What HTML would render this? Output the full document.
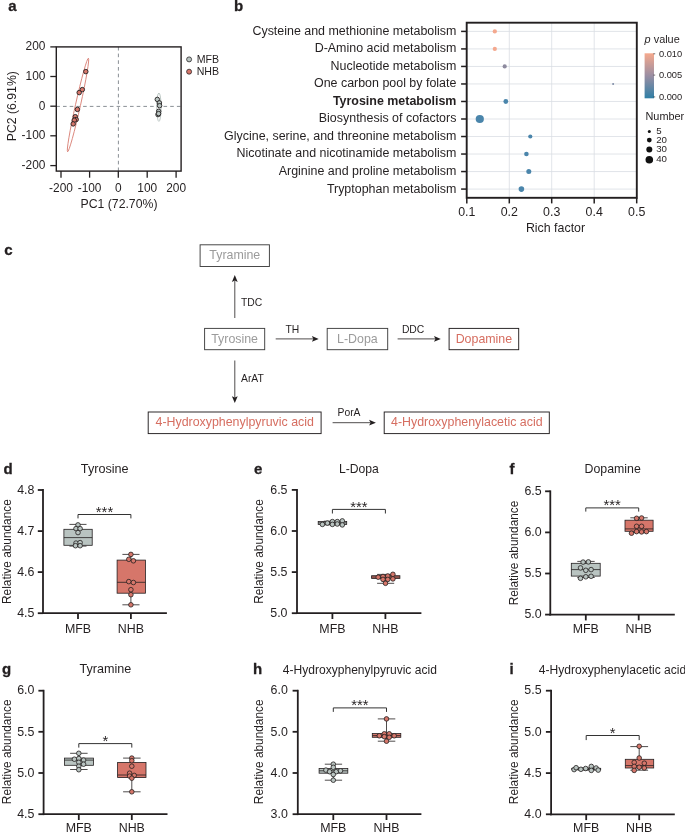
<!DOCTYPE html>
<html><head><meta charset="utf-8"><title>Figure</title>
<style>html,body{margin:0;padding:0;background:#fff}svg{display:block;font-family:"Liberation Sans", Arial, Helvetica, sans-serif}</style>
</head><body>
<svg width="685" height="833" viewBox="0 0 685 833">
<rect width="685" height="833" fill="#fff"/>
<text x="8.3" y="11.1" font-size="15" font-weight="bold" fill="#231f20" stroke="#231f20" stroke-width="0.3">a</text>
<line x1="56.3" y1="106.4" x2="181.1" y2="106.4" stroke="#626a70" stroke-width="0.75" stroke-dasharray="3.6 3.1"/>
<line x1="118.4" y1="46.9" x2="118.4" y2="171.1" stroke="#626a70" stroke-width="0.75" stroke-dasharray="3.6 3.1"/>
<rect x="56.3" y="46.9" width="124.8" height="124.19999999999999" fill="none" stroke="#231f20" stroke-width="1.4"/>
<line x1="50.3" y1="46.9" x2="56.3" y2="46.9" stroke="#231f20" stroke-width="1.3"/>
<text x="45.4" y="50.4" font-size="11.9" text-anchor="end" fill="#231f20">200</text>
<line x1="50.3" y1="76.5" x2="56.3" y2="76.5" stroke="#231f20" stroke-width="1.3"/>
<text x="45.4" y="80.0" font-size="11.9" text-anchor="end" fill="#231f20">100</text>
<line x1="50.3" y1="106.2" x2="56.3" y2="106.2" stroke="#231f20" stroke-width="1.3"/>
<text x="45.4" y="109.7" font-size="11.9" text-anchor="end" fill="#231f20">0</text>
<line x1="50.3" y1="135.8" x2="56.3" y2="135.8" stroke="#231f20" stroke-width="1.3"/>
<text x="45.4" y="139.3" font-size="11.9" text-anchor="end" fill="#231f20">-100</text>
<line x1="50.3" y1="165.6" x2="56.3" y2="165.6" stroke="#231f20" stroke-width="1.3"/>
<text x="45.4" y="169.1" font-size="11.9" text-anchor="end" fill="#231f20">-200</text>
<line x1="61.0" y1="171.1" x2="61.0" y2="177.7" stroke="#231f20" stroke-width="1.3"/>
<text x="61.0" y="191.7" font-size="11.9" text-anchor="middle" fill="#231f20">-200</text>
<line x1="89.6" y1="171.1" x2="89.6" y2="177.7" stroke="#231f20" stroke-width="1.3"/>
<text x="89.6" y="191.7" font-size="11.9" text-anchor="middle" fill="#231f20">-100</text>
<line x1="118.3" y1="171.1" x2="118.3" y2="177.7" stroke="#231f20" stroke-width="1.3"/>
<text x="118.3" y="191.7" font-size="11.9" text-anchor="middle" fill="#231f20">0</text>
<line x1="147.2" y1="171.1" x2="147.2" y2="177.7" stroke="#231f20" stroke-width="1.3"/>
<text x="147.2" y="191.7" font-size="11.9" text-anchor="middle" fill="#231f20">100</text>
<line x1="176.1" y1="171.1" x2="176.1" y2="177.7" stroke="#231f20" stroke-width="1.3"/>
<text x="176.1" y="191.7" font-size="11.9" text-anchor="middle" fill="#231f20">200</text>
<text x="119.0" y="207.9" font-size="12.26" text-anchor="middle" fill="#231f20">PC1 (72.70%)</text>
<text x="15.6" y="106.2" font-size="12.26" text-anchor="middle" transform="rotate(-90 15.6 106.2)" fill="#231f20">PC2 (6.91%)</text>
<ellipse cx="78" cy="105" rx="2.5" ry="47.9" transform="rotate(12.55 78 105)" fill="none" stroke="#d6766a" stroke-width="0.8"/>
<ellipse cx="158.9" cy="107.2" rx="2.2" ry="14.2" fill="none" stroke="#aab8b4" stroke-width="0.8"/>
<circle cx="85.8" cy="71.6" r="2.25" fill="#d6766a" stroke="#231f20" stroke-width="0.9"/>
<circle cx="82.3" cy="89.6" r="2.25" fill="#d6766a" stroke="#231f20" stroke-width="0.9"/>
<circle cx="79.2" cy="92.6" r="2.25" fill="#d6766a" stroke="#231f20" stroke-width="0.9"/>
<circle cx="77.4" cy="109.4" r="2.25" fill="#d6766a" stroke="#231f20" stroke-width="0.9"/>
<circle cx="75.3" cy="116.7" r="2.25" fill="#d6766a" stroke="#231f20" stroke-width="0.9"/>
<circle cx="76.2" cy="119.5" r="2.25" fill="#d6766a" stroke="#231f20" stroke-width="0.9"/>
<circle cx="74.3" cy="120.2" r="2.25" fill="#d6766a" stroke="#231f20" stroke-width="0.9"/>
<circle cx="73.2" cy="123.9" r="2.25" fill="#d6766a" stroke="#231f20" stroke-width="0.9"/>
<circle cx="157.3" cy="99.4" r="2.25" fill="#b9c4c1" stroke="#231f20" stroke-width="0.9"/>
<circle cx="159.4" cy="102.9" r="2.25" fill="#b9c4c1" stroke="#231f20" stroke-width="0.9"/>
<circle cx="159.6" cy="105.7" r="2.25" fill="#b9c4c1" stroke="#231f20" stroke-width="0.9"/>
<circle cx="158.7" cy="111.3" r="2.25" fill="#b9c4c1" stroke="#231f20" stroke-width="0.9"/>
<circle cx="158.0" cy="114.6" r="2.25" fill="#b9c4c1" stroke="#231f20" stroke-width="0.9"/>
<circle cx="158.6" cy="113.6" r="2.25" fill="#b9c4c1" stroke="#231f20" stroke-width="0.9"/>
<circle cx="189.1" cy="59.4" r="2.5" fill="#b9c4c1" stroke="#231f20" stroke-width="0.75"/>
<text x="196.7" y="62.8" font-size="10.6" fill="#231f20">MFB</text>
<circle cx="189.1" cy="71.7" r="2.5" fill="#d6766a" stroke="#231f20" stroke-width="0.75"/>
<text x="196.7" y="74.8" font-size="10.6" fill="#231f20">NHB</text>
<text x="234.1" y="10.9" font-size="15" font-weight="bold" fill="#231f20" stroke="#231f20" stroke-width="0.3">b</text>
<line x1="509.3" y1="22.7" x2="509.3" y2="197.8" stroke="#d9dde3" stroke-width="0.8"/>
<line x1="551.7" y1="22.7" x2="551.7" y2="197.8" stroke="#d9dde3" stroke-width="0.8"/>
<line x1="594.2" y1="22.7" x2="594.2" y2="197.8" stroke="#d9dde3" stroke-width="0.8"/>
<line x1="466.7" y1="31.4" x2="636.8" y2="31.4" stroke="#d9dde3" stroke-width="0.8"/>
<line x1="466.7" y1="48.92" x2="636.8" y2="48.92" stroke="#d9dde3" stroke-width="0.8"/>
<line x1="466.7" y1="66.44" x2="636.8" y2="66.44" stroke="#d9dde3" stroke-width="0.8"/>
<line x1="466.7" y1="83.96" x2="636.8" y2="83.96" stroke="#d9dde3" stroke-width="0.8"/>
<line x1="466.7" y1="101.48" x2="636.8" y2="101.48" stroke="#d9dde3" stroke-width="0.8"/>
<line x1="466.7" y1="119.0" x2="636.8" y2="119.0" stroke="#d9dde3" stroke-width="0.8"/>
<line x1="466.7" y1="136.52" x2="636.8" y2="136.52" stroke="#d9dde3" stroke-width="0.8"/>
<line x1="466.7" y1="154.04" x2="636.8" y2="154.04" stroke="#d9dde3" stroke-width="0.8"/>
<line x1="466.7" y1="171.56" x2="636.8" y2="171.56" stroke="#d9dde3" stroke-width="0.8"/>
<line x1="466.7" y1="189.08" x2="636.8" y2="189.08" stroke="#d9dde3" stroke-width="0.8"/>
<circle cx="494.8" cy="31.4" r="2.15" fill="#f4a88e"/>
<circle cx="494.8" cy="48.9" r="2.1" fill="#f4a88e"/>
<circle cx="504.7" cy="66.4" r="2.1" fill="#8d8a9e"/>
<circle cx="613.1" cy="84.0" r="1.0" fill="#7d8aa5"/>
<circle cx="505.8" cy="101.5" r="2.4" fill="#4a85ab"/>
<circle cx="479.8" cy="119.0" r="4.1" fill="#4a85ab"/>
<circle cx="530.3" cy="136.5" r="2.1" fill="#4a85ab"/>
<circle cx="526.4" cy="154.0" r="2.3" fill="#4a85ab"/>
<circle cx="528.8" cy="171.6" r="2.5" fill="#4a85ab"/>
<circle cx="521.4" cy="189.1" r="2.8" fill="#4a85ab"/>
<rect x="466.7" y="22.7" width="170.09999999999997" height="175.10000000000002" fill="none" stroke="#231f20" stroke-width="1.9"/>
<line x1="461.09999999999997" y1="31.4" x2="466.7" y2="31.4" stroke="#231f20" stroke-width="1.5"/>
<text x="456.4" y="34.8" font-size="12.45" text-anchor="end" fill="#231f20">Cysteine and methionine metabolism</text>
<line x1="461.09999999999997" y1="48.92" x2="466.7" y2="48.92" stroke="#231f20" stroke-width="1.5"/>
<text x="456.4" y="52.3" font-size="12.45" text-anchor="end" fill="#231f20">D-Amino acid metabolism</text>
<line x1="461.09999999999997" y1="66.44" x2="466.7" y2="66.44" stroke="#231f20" stroke-width="1.5"/>
<text x="456.4" y="69.8" font-size="12.45" text-anchor="end" fill="#231f20">Nucleotide metabolism</text>
<line x1="461.09999999999997" y1="83.96" x2="466.7" y2="83.96" stroke="#231f20" stroke-width="1.5"/>
<text x="456.4" y="87.4" font-size="12.45" text-anchor="end" fill="#231f20">One carbon pool by folate</text>
<line x1="461.09999999999997" y1="101.48" x2="466.7" y2="101.48" stroke="#231f20" stroke-width="1.5"/>
<text x="456.4" y="104.9" font-size="12.45" text-anchor="end" font-weight="bold" fill="#231f20">Tyrosine metabolism</text>
<line x1="461.09999999999997" y1="119.0" x2="466.7" y2="119.0" stroke="#231f20" stroke-width="1.5"/>
<text x="456.4" y="122.4" font-size="12.45" text-anchor="end" fill="#231f20">Biosynthesis of cofactors</text>
<line x1="461.09999999999997" y1="136.52" x2="466.7" y2="136.52" stroke="#231f20" stroke-width="1.5"/>
<text x="456.4" y="139.9" font-size="12.45" text-anchor="end" fill="#231f20">Glycine, serine, and threonine metabolism</text>
<line x1="461.09999999999997" y1="154.04" x2="466.7" y2="154.04" stroke="#231f20" stroke-width="1.5"/>
<text x="456.4" y="157.4" font-size="12.45" text-anchor="end" fill="#231f20">Nicotinate and nicotinamide metabolism</text>
<line x1="461.09999999999997" y1="171.56" x2="466.7" y2="171.56" stroke="#231f20" stroke-width="1.5"/>
<text x="456.4" y="175.0" font-size="12.45" text-anchor="end" fill="#231f20">Arginine and proline metabolism</text>
<line x1="461.09999999999997" y1="189.08" x2="466.7" y2="189.08" stroke="#231f20" stroke-width="1.5"/>
<text x="456.4" y="192.5" font-size="12.45" text-anchor="end" fill="#231f20">Tryptophan metabolism</text>
<line x1="466.8" y1="197.8" x2="466.8" y2="203.4" stroke="#231f20" stroke-width="1.5"/>
<text x="466.8" y="216.1" font-size="12.4" text-anchor="middle" fill="#231f20">0.1</text>
<line x1="509.3" y1="197.8" x2="509.3" y2="203.4" stroke="#231f20" stroke-width="1.5"/>
<text x="509.3" y="216.1" font-size="12.4" text-anchor="middle" fill="#231f20">0.2</text>
<line x1="551.7" y1="197.8" x2="551.7" y2="203.4" stroke="#231f20" stroke-width="1.5"/>
<text x="551.7" y="216.1" font-size="12.4" text-anchor="middle" fill="#231f20">0.3</text>
<line x1="594.2" y1="197.8" x2="594.2" y2="203.4" stroke="#231f20" stroke-width="1.5"/>
<text x="594.2" y="216.1" font-size="12.4" text-anchor="middle" fill="#231f20">0.4</text>
<line x1="636.7" y1="197.8" x2="636.7" y2="203.4" stroke="#231f20" stroke-width="1.5"/>
<text x="636.7" y="216.1" font-size="12.4" text-anchor="middle" fill="#231f20">0.5</text>
<text x="555.5" y="232.1" font-size="12.4" text-anchor="middle" fill="#231f20">Rich factor</text>
<text x="644.6" y="43" font-size="10.9" fill="#231f20"><tspan font-style="italic">p</tspan> value</text>
<defs><linearGradient id="cb" x1="0" y1="0" x2="0" y2="1"><stop offset="0" stop-color="#f6a98d"/><stop offset="0.5" stop-color="#9a8ea3"/><stop offset="1" stop-color="#2f7fa6"/></linearGradient></defs>
<rect x="644.6" y="53.3" width="9.4" height="45" fill="url(#cb)"/>
<line x1="653.4" y1="53.8" x2="655.2" y2="53.8" stroke="#333" stroke-width="0.7"/>
<text x="658.9" y="56.8" font-size="9.3" fill="#231f20">0.010</text>
<line x1="653.4" y1="75.1" x2="655.2" y2="75.1" stroke="#333" stroke-width="0.7"/>
<text x="658.9" y="78.1" font-size="9.3" fill="#231f20">0.005</text>
<line x1="653.4" y1="96.9" x2="655.2" y2="96.9" stroke="#333" stroke-width="0.7"/>
<text x="658.9" y="99.9" font-size="9.3" fill="#231f20">0.000</text>
<text x="645.5" y="120.1" font-size="10.9" fill="#231f20">Number</text>
<circle cx="649.3" cy="131.4" r="1.5" fill="#111"/>
<text x="656.2" y="134.0" font-size="9.7" fill="#231f20">5</text>
<circle cx="649.3" cy="140.1" r="2.4" fill="#111"/>
<text x="656.2" y="142.7" font-size="9.7" fill="#231f20">20</text>
<circle cx="649.3" cy="149.4" r="3.0" fill="#111"/>
<text x="656.2" y="152.0" font-size="9.7" fill="#231f20">30</text>
<circle cx="649.3" cy="159.7" r="3.8" fill="#111"/>
<text x="656.2" y="162.3" font-size="9.7" fill="#231f20">40</text>
<text x="4.3" y="254.7" font-size="15" font-weight="bold" fill="#231f20" stroke="#231f20" stroke-width="0.3">c</text>
<rect x="200.1" y="244.8" width="69.3" height="21.7" fill="#fff" stroke="#3f3f3f" stroke-width="0.95"/>
<text x="234.8" y="259.1" font-size="12.4" text-anchor="middle" fill="#9b9b9b">Tyramine</text>
<rect x="204.6" y="328.4" width="60.1" height="21.3" fill="#fff" stroke="#3f3f3f" stroke-width="0.95"/>
<text x="234.6" y="342.5" font-size="12.4" text-anchor="middle" fill="#9b9b9b">Tyrosine</text>
<rect x="327.2" y="328.4" width="60.5" height="21.3" fill="#fff" stroke="#3f3f3f" stroke-width="0.95"/>
<text x="357.4" y="342.5" font-size="12.4" text-anchor="middle" fill="#9b9b9b">L-Dopa</text>
<rect x="449.1" y="328.4" width="69.6" height="21.3" fill="#fff" stroke="#231f20" stroke-width="0.95"/>
<text x="483.9" y="342.5" font-size="12.4" text-anchor="middle" fill="#d66e61">Dopamine</text>
<rect x="148.2" y="412" width="172.9" height="21.6" fill="#fff" stroke="#231f20" stroke-width="0.95"/>
<text x="234.7" y="426.3" font-size="12.4" text-anchor="middle" fill="#d66e61">4-Hydroxyphenylpyruvic acid</text>
<rect x="384.2" y="412" width="165.1" height="21.6" fill="#fff" stroke="#231f20" stroke-width="0.95"/>
<text x="466.8" y="426.3" font-size="12.4" text-anchor="middle" fill="#d66e61">4-Hydroxyphenylacetic acid</text>
<line x1="234.8" y1="318" x2="234.8" y2="280.5" stroke="#231f20" stroke-width="0.8"/>
<polygon points="234.8,275.1 231.9,281.9 234.8,280.5 237.7,281.9" fill="#231f20"/>
<text x="241" y="306.1" font-size="10.35" fill="#231f20">TDC</text>
<line x1="234.8" y1="360.5" x2="234.8" y2="397.6" stroke="#231f20" stroke-width="0.8"/>
<polygon points="234.8,403.0 237.7,396.2 234.8,397.6 231.9,396.2" fill="#231f20"/>
<text x="241" y="382.1" font-size="10.35" fill="#231f20">ArAT</text>
<line x1="275.7" y1="338.9" x2="313.3" y2="338.9" stroke="#231f20" stroke-width="0.8"/>
<polygon points="318.7,338.9 311.9,336.0 313.3,338.9 311.9,341.8" fill="#231f20"/>
<text x="285.5" y="333" font-size="10.35" fill="#231f20">TH</text>
<line x1="397.6" y1="338.9" x2="435.4" y2="338.9" stroke="#231f20" stroke-width="0.8"/>
<polygon points="440.8,338.9 434.0,336.0 435.4,338.9 434.0,341.8" fill="#231f20"/>
<text x="401.9" y="332.7" font-size="10.35" fill="#231f20">DDC</text>
<line x1="332.6" y1="422.7" x2="370.5" y2="422.7" stroke="#231f20" stroke-width="0.8"/>
<polygon points="375.9,422.7 369.1,419.8 370.5,422.7 369.1,425.6" fill="#231f20"/>
<text x="337.5" y="416.4" font-size="10.35" fill="#231f20">PorA</text>
<text x="3.5" y="473.8" font-size="15" font-weight="bold" fill="#231f20" stroke="#231f20" stroke-width="0.3">d</text>
<text x="104.75" y="473.4" font-size="12.65" text-anchor="middle" fill="#231f20">Tyrosine</text>
<line x1="43.0" y1="489.1" x2="43.0" y2="614.1" stroke="#231f20" stroke-width="1.8"/>
<line x1="42.1" y1="613.2" x2="166.9" y2="613.2" stroke="#231f20" stroke-width="1.8"/>
<line x1="37.8" y1="490.0" x2="43.0" y2="490.0" stroke="#231f20" stroke-width="1.8"/>
<text x="34.4" y="493.7" font-size="12.4" text-anchor="end" fill="#231f20">4.8</text>
<line x1="37.8" y1="531.1" x2="43.0" y2="531.1" stroke="#231f20" stroke-width="1.8"/>
<text x="34.4" y="534.8" font-size="12.4" text-anchor="end" fill="#231f20">4.7</text>
<line x1="37.8" y1="572.1" x2="43.0" y2="572.1" stroke="#231f20" stroke-width="1.8"/>
<text x="34.4" y="575.8" font-size="12.4" text-anchor="end" fill="#231f20">4.6</text>
<line x1="37.8" y1="613.2" x2="43.0" y2="613.2" stroke="#231f20" stroke-width="1.8"/>
<text x="34.4" y="616.9" font-size="12.4" text-anchor="end" fill="#231f20">4.5</text>
<line x1="78.0" y1="613.2" x2="78.0" y2="619.0" stroke="#231f20" stroke-width="1.8"/>
<text x="78.0" y="632.6" font-size="12.4" text-anchor="middle" fill="#231f20">MFB</text>
<line x1="130.9" y1="613.2" x2="130.9" y2="619.0" stroke="#231f20" stroke-width="1.8"/>
<text x="130.9" y="632.6" font-size="12.4" text-anchor="middle" fill="#231f20">NHB</text>
<text x="10.7" y="551.6" font-size="11.85" text-anchor="middle" transform="rotate(-90 10.7 551.6)" fill="#231f20">Relative abundance</text>
<line x1="78.0" y1="524.4" x2="78.0" y2="546.1" stroke="#231f20" stroke-width="0.8"/>
<line x1="69.4" y1="524.4" x2="86.5" y2="524.4" stroke="#231f20" stroke-width="0.8"/>
<line x1="69.4" y1="546.1" x2="86.5" y2="546.1" stroke="#231f20" stroke-width="0.8"/>
<rect x="63.9" y="529.3" width="28.3" height="16.0" fill="#b9c4c1" stroke="#231f20" stroke-width="0.8"/>
<line x1="63.9" y1="537.6" x2="92.2" y2="537.6" stroke="#231f20" stroke-width="0.8"/>
<line x1="130.9" y1="554.4" x2="130.9" y2="604.8" stroke="#231f20" stroke-width="0.8"/>
<line x1="122.4" y1="554.4" x2="139.5" y2="554.4" stroke="#231f20" stroke-width="0.8"/>
<line x1="122.4" y1="604.8" x2="139.5" y2="604.8" stroke="#231f20" stroke-width="0.8"/>
<rect x="117.1" y="560.1" width="28.3" height="33.1" fill="#d6766a" stroke="#231f20" stroke-width="0.8"/>
<line x1="117.1" y1="582.3" x2="145.4" y2="582.3" stroke="#231f20" stroke-width="0.8"/>
<circle cx="78.0" cy="524.9" r="2.3" fill="#b9c4c1" stroke="#231f20" stroke-width="0.8"/>
<circle cx="76.0" cy="528.6" r="2.3" fill="#b9c4c1" stroke="#231f20" stroke-width="0.8"/>
<circle cx="80.1" cy="528.6" r="2.3" fill="#b9c4c1" stroke="#231f20" stroke-width="0.8"/>
<circle cx="78.0" cy="532.6" r="2.3" fill="#b9c4c1" stroke="#231f20" stroke-width="0.8"/>
<circle cx="76.0" cy="543.1" r="2.3" fill="#b9c4c1" stroke="#231f20" stroke-width="0.8"/>
<circle cx="80.1" cy="542.6" r="2.3" fill="#b9c4c1" stroke="#231f20" stroke-width="0.8"/>
<circle cx="75.5" cy="545.7" r="2.3" fill="#b9c4c1" stroke="#231f20" stroke-width="0.8"/>
<circle cx="80.1" cy="545.7" r="2.3" fill="#b9c4c1" stroke="#231f20" stroke-width="0.8"/>
<circle cx="130.9" cy="554.4" r="2.3" fill="#d6766a" stroke="#231f20" stroke-width="0.8"/>
<circle cx="128.8" cy="559.3" r="2.3" fill="#d6766a" stroke="#231f20" stroke-width="0.8"/>
<circle cx="133.4" cy="560.8" r="2.3" fill="#d6766a" stroke="#231f20" stroke-width="0.8"/>
<circle cx="128.8" cy="581.6" r="2.3" fill="#d6766a" stroke="#231f20" stroke-width="0.8"/>
<circle cx="133.4" cy="582.5" r="2.3" fill="#d6766a" stroke="#231f20" stroke-width="0.8"/>
<circle cx="130.9" cy="589.7" r="2.3" fill="#d6766a" stroke="#231f20" stroke-width="0.8"/>
<circle cx="130.9" cy="594.7" r="2.3" fill="#d6766a" stroke="#231f20" stroke-width="0.8"/>
<circle cx="130.9" cy="604.8" r="2.3" fill="#d6766a" stroke="#231f20" stroke-width="0.8"/>
<polyline points="78.0,518.4 78.0,514.5 130.9,514.5 130.9,518.4" fill="none" stroke="#333" stroke-width="1.0"/>
<text x="104.5" y="516.6" font-size="14.8" text-anchor="middle" fill="#231f20">***</text>
<text x="254.0" y="473.5" font-size="15" font-weight="bold" fill="#231f20" stroke="#231f20" stroke-width="0.3">e</text>
<text x="358.85" y="473.0" font-size="12.18" text-anchor="middle" fill="#231f20">L-Dopa</text>
<line x1="297.0" y1="489.0" x2="297.0" y2="614.1" stroke="#231f20" stroke-width="1.8"/>
<line x1="296.1" y1="613.2" x2="421.4" y2="613.2" stroke="#231f20" stroke-width="1.8"/>
<line x1="291.8" y1="489.9" x2="297.0" y2="489.9" stroke="#231f20" stroke-width="1.8"/>
<text x="287.5" y="493.6" font-size="12.4" text-anchor="end" fill="#231f20">6.5</text>
<line x1="291.8" y1="531.0" x2="297.0" y2="531.0" stroke="#231f20" stroke-width="1.8"/>
<text x="287.5" y="534.7" font-size="12.4" text-anchor="end" fill="#231f20">6.0</text>
<line x1="291.8" y1="572.1" x2="297.0" y2="572.1" stroke="#231f20" stroke-width="1.8"/>
<text x="287.5" y="575.8" font-size="12.4" text-anchor="end" fill="#231f20">5.5</text>
<line x1="291.8" y1="613.2" x2="297.0" y2="613.2" stroke="#231f20" stroke-width="1.8"/>
<text x="287.5" y="616.9" font-size="12.4" text-anchor="end" fill="#231f20">5.0</text>
<line x1="332.4" y1="613.2" x2="332.4" y2="619.0" stroke="#231f20" stroke-width="1.8"/>
<text x="332.4" y="632.7" font-size="12.4" text-anchor="middle" fill="#231f20">MFB</text>
<line x1="385.4" y1="613.2" x2="385.4" y2="619.0" stroke="#231f20" stroke-width="1.8"/>
<text x="385.4" y="632.7" font-size="12.4" text-anchor="middle" fill="#231f20">NHB</text>
<text x="262.8" y="551.5" font-size="11.85" text-anchor="middle" transform="rotate(-90 262.8 551.5)" fill="#231f20">Relative abundance</text>
<line x1="332.4" y1="521.2" x2="332.4" y2="524.8" stroke="#231f20" stroke-width="0.8"/>
<line x1="323.8" y1="521.2" x2="341.0" y2="521.2" stroke="#231f20" stroke-width="0.8"/>
<line x1="323.8" y1="524.8" x2="341.0" y2="524.8" stroke="#231f20" stroke-width="0.8"/>
<rect x="318.2" y="521.6" width="28.5" height="2.8" fill="#b9c4c1" stroke="#231f20" stroke-width="0.8"/>
<line x1="318.2" y1="522.9" x2="346.7" y2="522.9" stroke="#231f20" stroke-width="0.8"/>
<line x1="385.4" y1="574.4" x2="385.4" y2="583.3" stroke="#231f20" stroke-width="0.8"/>
<line x1="377.1" y1="574.4" x2="394.2" y2="574.4" stroke="#231f20" stroke-width="0.8"/>
<line x1="377.1" y1="583.3" x2="394.2" y2="583.3" stroke="#231f20" stroke-width="0.8"/>
<rect x="371.6" y="575.7" width="28.3" height="2.8" fill="#d6766a" stroke="#231f20" stroke-width="0.8"/>
<line x1="371.6" y1="577.0" x2="399.9" y2="577.0" stroke="#231f20" stroke-width="0.8"/>
<circle cx="322.4" cy="524.4" r="2.3" fill="#b9c4c1" stroke="#231f20" stroke-width="0.8"/>
<circle cx="327.4" cy="523.1" r="2.3" fill="#b9c4c1" stroke="#231f20" stroke-width="0.8"/>
<circle cx="332.4" cy="521.6" r="2.3" fill="#b9c4c1" stroke="#231f20" stroke-width="0.8"/>
<circle cx="332.4" cy="524.4" r="2.3" fill="#b9c4c1" stroke="#231f20" stroke-width="0.8"/>
<circle cx="337.3" cy="521.6" r="2.3" fill="#b9c4c1" stroke="#231f20" stroke-width="0.8"/>
<circle cx="337.3" cy="524.0" r="2.3" fill="#b9c4c1" stroke="#231f20" stroke-width="0.8"/>
<circle cx="342.3" cy="520.9" r="2.3" fill="#b9c4c1" stroke="#231f20" stroke-width="0.8"/>
<circle cx="342.3" cy="524.9" r="2.3" fill="#b9c4c1" stroke="#231f20" stroke-width="0.8"/>
<circle cx="378.2" cy="577.2" r="2.3" fill="#d6766a" stroke="#231f20" stroke-width="0.8"/>
<circle cx="383.0" cy="576.5" r="2.3" fill="#d6766a" stroke="#231f20" stroke-width="0.8"/>
<circle cx="387.8" cy="576.0" r="2.3" fill="#d6766a" stroke="#231f20" stroke-width="0.8"/>
<circle cx="392.9" cy="574.3" r="2.3" fill="#d6766a" stroke="#231f20" stroke-width="0.8"/>
<circle cx="392.9" cy="578.9" r="2.3" fill="#d6766a" stroke="#231f20" stroke-width="0.8"/>
<circle cx="383.0" cy="579.4" r="2.3" fill="#d6766a" stroke="#231f20" stroke-width="0.8"/>
<circle cx="387.8" cy="579.4" r="2.3" fill="#d6766a" stroke="#231f20" stroke-width="0.8"/>
<circle cx="385.5" cy="583.3" r="2.3" fill="#d6766a" stroke="#231f20" stroke-width="0.8"/>
<polyline points="332.4,513.5 332.4,509.4 385.4,509.4 385.4,513.5" fill="none" stroke="#333" stroke-width="1.0"/>
<text x="358.9" y="511.5" font-size="14.8" text-anchor="middle" fill="#231f20">***</text>
<text x="509.5" y="473.8" font-size="15" font-weight="bold" fill="#231f20" stroke="#231f20" stroke-width="0.3">f</text>
<text x="612.65" y="473.3" font-size="12.33" text-anchor="middle" fill="#231f20">Dopamine</text>
<line x1="550.3" y1="490.40000000000003" x2="550.3" y2="615.5" stroke="#231f20" stroke-width="1.8"/>
<line x1="549.4" y1="614.6" x2="674.8" y2="614.6" stroke="#231f20" stroke-width="1.8"/>
<line x1="545.0999999999999" y1="491.3" x2="550.3" y2="491.3" stroke="#231f20" stroke-width="1.8"/>
<text x="541.7" y="495.0" font-size="12.4" text-anchor="end" fill="#231f20">6.5</text>
<line x1="545.0999999999999" y1="532.4" x2="550.3" y2="532.4" stroke="#231f20" stroke-width="1.8"/>
<text x="541.7" y="536.1" font-size="12.4" text-anchor="end" fill="#231f20">6.0</text>
<line x1="545.0999999999999" y1="573.5" x2="550.3" y2="573.5" stroke="#231f20" stroke-width="1.8"/>
<text x="541.7" y="577.2" font-size="12.4" text-anchor="end" fill="#231f20">5.5</text>
<line x1="545.0999999999999" y1="614.6" x2="550.3" y2="614.6" stroke="#231f20" stroke-width="1.8"/>
<text x="541.7" y="618.3" font-size="12.4" text-anchor="end" fill="#231f20">5.0</text>
<line x1="585.8" y1="614.6" x2="585.8" y2="620.4" stroke="#231f20" stroke-width="1.8"/>
<text x="585.8" y="632.8" font-size="12.4" text-anchor="middle" fill="#231f20">MFB</text>
<line x1="638.7" y1="614.6" x2="638.7" y2="620.4" stroke="#231f20" stroke-width="1.8"/>
<text x="638.7" y="632.8" font-size="12.4" text-anchor="middle" fill="#231f20">NHB</text>
<text x="517.8" y="553.0" font-size="11.85" text-anchor="middle" transform="rotate(-90 517.8 553.0)" fill="#231f20">Relative abundance</text>
<line x1="585.8" y1="561.4" x2="585.8" y2="577.5" stroke="#231f20" stroke-width="0.8"/>
<line x1="577.3" y1="561.4" x2="594.7" y2="561.4" stroke="#231f20" stroke-width="0.8"/>
<line x1="577.3" y1="577.5" x2="594.7" y2="577.5" stroke="#231f20" stroke-width="0.8"/>
<rect x="571.3" y="563.3" width="28.9" height="12.8" fill="#b9c4c1" stroke="#231f20" stroke-width="0.8"/>
<line x1="571.3" y1="569.6" x2="600.2" y2="569.6" stroke="#231f20" stroke-width="0.8"/>
<line x1="638.7" y1="517.8" x2="638.7" y2="532.4" stroke="#231f20" stroke-width="0.8"/>
<line x1="630.3" y1="517.8" x2="647.7" y2="517.8" stroke="#231f20" stroke-width="0.8"/>
<line x1="630.3" y1="532.4" x2="647.7" y2="532.4" stroke="#231f20" stroke-width="0.8"/>
<rect x="625.0" y="520.2" width="28.1" height="11.1" fill="#d6766a" stroke="#231f20" stroke-width="0.8"/>
<line x1="625.0" y1="528.9" x2="653.1" y2="528.9" stroke="#231f20" stroke-width="0.8"/>
<circle cx="583.1" cy="562.1" r="2.3" fill="#b9c4c1" stroke="#231f20" stroke-width="0.8"/>
<circle cx="588.4" cy="561.9" r="2.3" fill="#b9c4c1" stroke="#231f20" stroke-width="0.8"/>
<circle cx="580.5" cy="567.9" r="2.3" fill="#b9c4c1" stroke="#231f20" stroke-width="0.8"/>
<circle cx="585.8" cy="570.3" r="2.3" fill="#b9c4c1" stroke="#231f20" stroke-width="0.8"/>
<circle cx="591.1" cy="569.6" r="2.3" fill="#b9c4c1" stroke="#231f20" stroke-width="0.8"/>
<circle cx="580.5" cy="578.3" r="2.3" fill="#b9c4c1" stroke="#231f20" stroke-width="0.8"/>
<circle cx="585.8" cy="576.8" r="2.3" fill="#b9c4c1" stroke="#231f20" stroke-width="0.8"/>
<circle cx="591.1" cy="576.3" r="2.3" fill="#b9c4c1" stroke="#231f20" stroke-width="0.8"/>
<circle cx="636.6" cy="518.3" r="2.3" fill="#d6766a" stroke="#231f20" stroke-width="0.8"/>
<circle cx="641.6" cy="518.0" r="2.3" fill="#d6766a" stroke="#231f20" stroke-width="0.8"/>
<circle cx="636.6" cy="526.3" r="2.3" fill="#d6766a" stroke="#231f20" stroke-width="0.8"/>
<circle cx="641.6" cy="526.3" r="2.3" fill="#d6766a" stroke="#231f20" stroke-width="0.8"/>
<circle cx="631.5" cy="533.2" r="2.3" fill="#d6766a" stroke="#231f20" stroke-width="0.8"/>
<circle cx="636.6" cy="531.6" r="2.3" fill="#d6766a" stroke="#231f20" stroke-width="0.8"/>
<circle cx="641.6" cy="531.9" r="2.3" fill="#d6766a" stroke="#231f20" stroke-width="0.8"/>
<circle cx="646.4" cy="531.6" r="2.3" fill="#d6766a" stroke="#231f20" stroke-width="0.8"/>
<polyline points="585.8,511.6 585.8,507.9 638.7,507.9 638.7,511.6" fill="none" stroke="#333" stroke-width="1.0"/>
<text x="612.2" y="510.0" font-size="14.8" text-anchor="middle" fill="#231f20">***</text>
<text x="1.9999999999999998" y="673.5" font-size="15" font-weight="bold" fill="#231f20" stroke="#231f20" stroke-width="0.3">g</text>
<text x="105.35" y="673.3" font-size="12.58" text-anchor="middle" fill="#231f20">Tyramine</text>
<line x1="43.6" y1="689.8000000000001" x2="43.6" y2="815.1" stroke="#231f20" stroke-width="1.8"/>
<line x1="42.7" y1="814.2" x2="167.5" y2="814.2" stroke="#231f20" stroke-width="1.8"/>
<line x1="38.4" y1="690.7" x2="43.6" y2="690.7" stroke="#231f20" stroke-width="1.8"/>
<text x="34.4" y="694.4" font-size="12.4" text-anchor="end" fill="#231f20">6.0</text>
<line x1="38.4" y1="731.8" x2="43.6" y2="731.8" stroke="#231f20" stroke-width="1.8"/>
<text x="34.4" y="735.5" font-size="12.4" text-anchor="end" fill="#231f20">5.5</text>
<line x1="38.4" y1="773.0" x2="43.6" y2="773.0" stroke="#231f20" stroke-width="1.8"/>
<text x="34.4" y="776.7" font-size="12.4" text-anchor="end" fill="#231f20">5.0</text>
<line x1="38.4" y1="814.2" x2="43.6" y2="814.2" stroke="#231f20" stroke-width="1.8"/>
<text x="34.4" y="817.9" font-size="12.4" text-anchor="end" fill="#231f20">4.5</text>
<line x1="78.8" y1="814.2" x2="78.8" y2="820.0" stroke="#231f20" stroke-width="1.8"/>
<text x="78.8" y="832.4" font-size="12.4" text-anchor="middle" fill="#231f20">MFB</text>
<line x1="131.8" y1="814.2" x2="131.8" y2="820.0" stroke="#231f20" stroke-width="1.8"/>
<text x="131.8" y="832.4" font-size="12.4" text-anchor="middle" fill="#231f20">NHB</text>
<text x="11.2" y="751.8" font-size="11.85" text-anchor="middle" transform="rotate(-90 11.2 751.8)" fill="#231f20">Relative abundance</text>
<line x1="78.8" y1="753.3" x2="78.8" y2="769.5" stroke="#231f20" stroke-width="0.8"/>
<line x1="70.1" y1="753.3" x2="87.6" y2="753.3" stroke="#231f20" stroke-width="0.8"/>
<line x1="70.1" y1="769.5" x2="87.6" y2="769.5" stroke="#231f20" stroke-width="0.8"/>
<rect x="64.4" y="758.1" width="29.1" height="7.2" fill="#b9c4c1" stroke="#231f20" stroke-width="0.8"/>
<line x1="64.4" y1="760.1" x2="93.5" y2="760.1" stroke="#231f20" stroke-width="0.8"/>
<line x1="131.8" y1="758.1" x2="131.8" y2="791.8" stroke="#231f20" stroke-width="0.8"/>
<line x1="123.1" y1="758.1" x2="140.6" y2="758.1" stroke="#231f20" stroke-width="0.8"/>
<line x1="123.1" y1="791.8" x2="140.6" y2="791.8" stroke="#231f20" stroke-width="0.8"/>
<rect x="117.6" y="762.5" width="28.4" height="15.1" fill="#d6766a" stroke="#231f20" stroke-width="0.8"/>
<line x1="117.6" y1="775" x2="146" y2="775" stroke="#231f20" stroke-width="0.8"/>
<circle cx="78.8" cy="753.3" r="2.3" fill="#b9c4c1" stroke="#231f20" stroke-width="0.8"/>
<circle cx="74.4" cy="759.2" r="2.3" fill="#b9c4c1" stroke="#231f20" stroke-width="0.8"/>
<circle cx="78.8" cy="758.5" r="2.3" fill="#b9c4c1" stroke="#231f20" stroke-width="0.8"/>
<circle cx="83.6" cy="760.1" r="2.3" fill="#b9c4c1" stroke="#231f20" stroke-width="0.8"/>
<circle cx="78.8" cy="762.3" r="2.3" fill="#b9c4c1" stroke="#231f20" stroke-width="0.8"/>
<circle cx="83.6" cy="764.2" r="2.3" fill="#b9c4c1" stroke="#231f20" stroke-width="0.8"/>
<circle cx="78.8" cy="766.2" r="2.3" fill="#b9c4c1" stroke="#231f20" stroke-width="0.8"/>
<circle cx="78.8" cy="769.7" r="2.3" fill="#b9c4c1" stroke="#231f20" stroke-width="0.8"/>
<circle cx="131.8" cy="758.1" r="2.3" fill="#d6766a" stroke="#231f20" stroke-width="0.8"/>
<circle cx="131.8" cy="760.7" r="2.3" fill="#d6766a" stroke="#231f20" stroke-width="0.8"/>
<circle cx="131.8" cy="766.2" r="2.3" fill="#d6766a" stroke="#231f20" stroke-width="0.8"/>
<circle cx="129.6" cy="773.2" r="2.3" fill="#d6766a" stroke="#231f20" stroke-width="0.8"/>
<circle cx="134.2" cy="775.4" r="2.3" fill="#d6766a" stroke="#231f20" stroke-width="0.8"/>
<circle cx="129.6" cy="776.1" r="2.3" fill="#d6766a" stroke="#231f20" stroke-width="0.8"/>
<circle cx="131.8" cy="778.2" r="2.3" fill="#d6766a" stroke="#231f20" stroke-width="0.8"/>
<circle cx="131.8" cy="791.8" r="2.3" fill="#d6766a" stroke="#231f20" stroke-width="0.8"/>
<polyline points="78.8,747.6 78.8,743.6 131.8,743.6 131.8,747.6" fill="none" stroke="#333" stroke-width="1.0"/>
<text x="105.3" y="745.7" font-size="14.8" text-anchor="middle" fill="#231f20">*</text>
<text x="253.1" y="673.8" font-size="15" font-weight="bold" fill="#231f20" stroke="#231f20" stroke-width="0.3">h</text>
<text x="359.85" y="674.1" font-size="12.05" text-anchor="middle" fill="#231f20">4-Hydroxyphenylpyruvic acid</text>
<line x1="297.8" y1="689.8000000000001" x2="297.8" y2="815.1" stroke="#231f20" stroke-width="1.8"/>
<line x1="296.90000000000003" y1="814.2" x2="421.4" y2="814.2" stroke="#231f20" stroke-width="1.8"/>
<line x1="292.6" y1="690.7" x2="297.8" y2="690.7" stroke="#231f20" stroke-width="1.8"/>
<text x="287.8" y="694.4" font-size="12.4" text-anchor="end" fill="#231f20">6.0</text>
<line x1="292.6" y1="731.8" x2="297.8" y2="731.8" stroke="#231f20" stroke-width="1.8"/>
<text x="287.8" y="735.5" font-size="12.4" text-anchor="end" fill="#231f20">5.0</text>
<line x1="292.6" y1="773.0" x2="297.8" y2="773.0" stroke="#231f20" stroke-width="1.8"/>
<text x="287.8" y="776.7" font-size="12.4" text-anchor="end" fill="#231f20">4.0</text>
<line x1="292.6" y1="814.2" x2="297.8" y2="814.2" stroke="#231f20" stroke-width="1.8"/>
<text x="287.8" y="817.9" font-size="12.4" text-anchor="end" fill="#231f20">3.0</text>
<line x1="333.3" y1="814.2" x2="333.3" y2="820.0" stroke="#231f20" stroke-width="1.8"/>
<text x="333.3" y="832.4" font-size="12.4" text-anchor="middle" fill="#231f20">MFB</text>
<line x1="386.5" y1="814.2" x2="386.5" y2="820.0" stroke="#231f20" stroke-width="1.8"/>
<text x="386.5" y="832.4" font-size="12.4" text-anchor="middle" fill="#231f20">NHB</text>
<text x="262.8" y="751.8" font-size="11.85" text-anchor="middle" transform="rotate(-90 262.8 751.8)" fill="#231f20">Relative abundance</text>
<line x1="333.3" y1="764.2" x2="333.3" y2="780.2" stroke="#231f20" stroke-width="0.8"/>
<line x1="324.8" y1="764.2" x2="342.1" y2="764.2" stroke="#231f20" stroke-width="0.8"/>
<line x1="324.8" y1="780.2" x2="342.1" y2="780.2" stroke="#231f20" stroke-width="0.8"/>
<rect x="319.1" y="768.6" width="28.7" height="4.6" fill="#b9c4c1" stroke="#231f20" stroke-width="0.8"/>
<line x1="319.1" y1="770.8" x2="347.8" y2="770.8" stroke="#231f20" stroke-width="0.8"/>
<line x1="386.5" y1="718.9" x2="386.5" y2="741.2" stroke="#231f20" stroke-width="0.8"/>
<line x1="377.8" y1="718.9" x2="395.3" y2="718.9" stroke="#231f20" stroke-width="0.8"/>
<line x1="377.8" y1="741.2" x2="395.3" y2="741.2" stroke="#231f20" stroke-width="0.8"/>
<rect x="372.3" y="733.6" width="28.5" height="3.7" fill="#d6766a" stroke="#231f20" stroke-width="0.8"/>
<line x1="372.3" y1="735.6" x2="400.8" y2="735.6" stroke="#231f20" stroke-width="0.8"/>
<circle cx="333.3" cy="764.2" r="2.3" fill="#b9c4c1" stroke="#231f20" stroke-width="0.8"/>
<circle cx="333.3" cy="767.3" r="2.3" fill="#b9c4c1" stroke="#231f20" stroke-width="0.8"/>
<circle cx="325.9" cy="770.1" r="2.3" fill="#b9c4c1" stroke="#231f20" stroke-width="0.8"/>
<circle cx="329.6" cy="771.7" r="2.3" fill="#b9c4c1" stroke="#231f20" stroke-width="0.8"/>
<circle cx="336.2" cy="771.7" r="2.3" fill="#b9c4c1" stroke="#231f20" stroke-width="0.8"/>
<circle cx="340.5" cy="770.8" r="2.3" fill="#b9c4c1" stroke="#231f20" stroke-width="0.8"/>
<circle cx="333.3" cy="774.5" r="2.3" fill="#b9c4c1" stroke="#231f20" stroke-width="0.8"/>
<circle cx="333.3" cy="780.2" r="2.3" fill="#b9c4c1" stroke="#231f20" stroke-width="0.8"/>
<circle cx="386.5" cy="718.9" r="2.3" fill="#d6766a" stroke="#231f20" stroke-width="0.8"/>
<circle cx="384.3" cy="733.8" r="2.3" fill="#d6766a" stroke="#231f20" stroke-width="0.8"/>
<circle cx="389.2" cy="733.8" r="2.3" fill="#d6766a" stroke="#231f20" stroke-width="0.8"/>
<circle cx="379.3" cy="735.8" r="2.3" fill="#d6766a" stroke="#231f20" stroke-width="0.8"/>
<circle cx="384.3" cy="736.6" r="2.3" fill="#d6766a" stroke="#231f20" stroke-width="0.8"/>
<circle cx="389.2" cy="737.3" r="2.3" fill="#d6766a" stroke="#231f20" stroke-width="0.8"/>
<circle cx="394.2" cy="735.8" r="2.3" fill="#d6766a" stroke="#231f20" stroke-width="0.8"/>
<circle cx="386.5" cy="741.2" r="2.3" fill="#d6766a" stroke="#231f20" stroke-width="0.8"/>
<polyline points="333.3,711.9 333.3,707.9 386.5,707.9 386.5,711.9" fill="none" stroke="#333" stroke-width="1.0"/>
<text x="359.9" y="710.0" font-size="14.8" text-anchor="middle" fill="#231f20">***</text>
<text x="509.5" y="673.8" font-size="15" font-weight="bold" fill="#231f20" stroke="#231f20" stroke-width="0.3">i</text>
<text x="612.5" y="674.1" font-size="12.07" text-anchor="middle" fill="#231f20">4-Hydroxyphenylacetic acid</text>
<line x1="551.1" y1="689.8000000000001" x2="551.1" y2="815.1999999999999" stroke="#231f20" stroke-width="1.8"/>
<line x1="550.2" y1="814.3" x2="674.8" y2="814.3" stroke="#231f20" stroke-width="1.8"/>
<line x1="545.9" y1="690.7" x2="551.1" y2="690.7" stroke="#231f20" stroke-width="1.8"/>
<text x="541.6" y="694.4" font-size="12.4" text-anchor="end" fill="#231f20">5.5</text>
<line x1="545.9" y1="731.9" x2="551.1" y2="731.9" stroke="#231f20" stroke-width="1.8"/>
<text x="541.6" y="735.6" font-size="12.4" text-anchor="end" fill="#231f20">5.0</text>
<line x1="545.9" y1="773.1" x2="551.1" y2="773.1" stroke="#231f20" stroke-width="1.8"/>
<text x="541.6" y="776.8" font-size="12.4" text-anchor="end" fill="#231f20">4.5</text>
<line x1="545.9" y1="814.3" x2="551.1" y2="814.3" stroke="#231f20" stroke-width="1.8"/>
<text x="541.6" y="818.0" font-size="12.4" text-anchor="end" fill="#231f20">4.0</text>
<line x1="586.2" y1="814.3" x2="586.2" y2="820.0999999999999" stroke="#231f20" stroke-width="1.8"/>
<text x="586.2" y="832.4" font-size="12.4" text-anchor="middle" fill="#231f20">MFB</text>
<line x1="639.2" y1="814.3" x2="639.2" y2="820.0999999999999" stroke="#231f20" stroke-width="1.8"/>
<text x="639.2" y="832.4" font-size="12.4" text-anchor="middle" fill="#231f20">NHB</text>
<text x="518.0" y="751.8" font-size="11.85" text-anchor="middle" transform="rotate(-90 518.0 751.8)" fill="#231f20">Relative abundance</text>
<line x1="586.2" y1="768.0" x2="586.2" y2="770.0" stroke="#231f20" stroke-width="0.8"/>
<line x1="577.5" y1="768.0" x2="595.0" y2="768.0" stroke="#231f20" stroke-width="0.8"/>
<line x1="577.5" y1="770.0" x2="595.0" y2="770.0" stroke="#231f20" stroke-width="0.8"/>
<rect x="571.8" y="768.3" width="28.9" height="1.4" fill="#b9c4c1" stroke="#231f20" stroke-width="0.8"/>
<line x1="571.8" y1="769.0" x2="600.7" y2="769.0" stroke="#231f20" stroke-width="0.8"/>
<line x1="639.2" y1="746.6" x2="639.2" y2="770.2" stroke="#231f20" stroke-width="0.8"/>
<line x1="630.3" y1="746.6" x2="648.1" y2="746.6" stroke="#231f20" stroke-width="0.8"/>
<line x1="630.3" y1="770.2" x2="648.1" y2="770.2" stroke="#231f20" stroke-width="0.8"/>
<rect x="625.3" y="759.3" width="28.4" height="8.7" fill="#d6766a" stroke="#231f20" stroke-width="0.8"/>
<line x1="625.3" y1="765.6" x2="653.7" y2="765.6" stroke="#231f20" stroke-width="0.8"/>
<circle cx="574.1" cy="769.6" r="2.3" fill="#b9c4c1" stroke="#231f20" stroke-width="0.8"/>
<circle cx="576.1" cy="767.7" r="2.3" fill="#b9c4c1" stroke="#231f20" stroke-width="0.8"/>
<circle cx="580.9" cy="769.3" r="2.3" fill="#b9c4c1" stroke="#231f20" stroke-width="0.8"/>
<circle cx="585.7" cy="768.5" r="2.3" fill="#b9c4c1" stroke="#231f20" stroke-width="0.8"/>
<circle cx="591.3" cy="766.4" r="2.3" fill="#b9c4c1" stroke="#231f20" stroke-width="0.8"/>
<circle cx="591.3" cy="770.4" r="2.3" fill="#b9c4c1" stroke="#231f20" stroke-width="0.8"/>
<circle cx="596.1" cy="768.0" r="2.3" fill="#b9c4c1" stroke="#231f20" stroke-width="0.8"/>
<circle cx="598.2" cy="770.1" r="2.3" fill="#b9c4c1" stroke="#231f20" stroke-width="0.8"/>
<circle cx="639.2" cy="746.3" r="2.3" fill="#d6766a" stroke="#231f20" stroke-width="0.8"/>
<circle cx="639.2" cy="758.0" r="2.3" fill="#d6766a" stroke="#231f20" stroke-width="0.8"/>
<circle cx="634.2" cy="762.4" r="2.3" fill="#d6766a" stroke="#231f20" stroke-width="0.8"/>
<circle cx="644.3" cy="763.2" r="2.3" fill="#d6766a" stroke="#231f20" stroke-width="0.8"/>
<circle cx="634.2" cy="766.4" r="2.3" fill="#d6766a" stroke="#231f20" stroke-width="0.8"/>
<circle cx="639.2" cy="767.2" r="2.3" fill="#d6766a" stroke="#231f20" stroke-width="0.8"/>
<circle cx="644.3" cy="768.0" r="2.3" fill="#d6766a" stroke="#231f20" stroke-width="0.8"/>
<circle cx="634.2" cy="770.4" r="2.3" fill="#d6766a" stroke="#231f20" stroke-width="0.8"/>
<polyline points="586.2,740.1 586.2,735.5 639.2,735.5 639.2,740.1" fill="none" stroke="#333" stroke-width="1.0"/>
<text x="612.7" y="737.6" font-size="14.8" text-anchor="middle" fill="#231f20">*</text>
</svg>
</body></html>
